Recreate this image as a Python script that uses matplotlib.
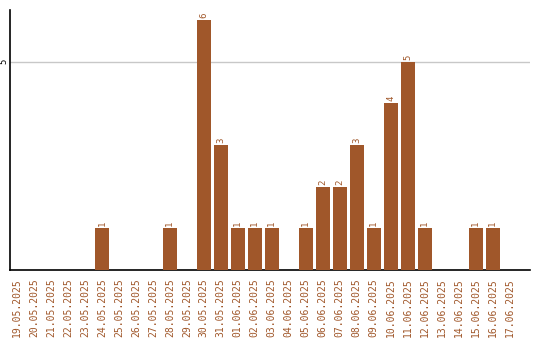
import matplotlib
matplotlib.use("Agg")
import matplotlib.pyplot as plt

dates = ["19.05.2025", "20.05.2025", "21.05.2025", "22.05.2025", "23.05.2025",
         "24.05.2025", "25.05.2025", "26.05.2025", "27.05.2025", "28.05.2025",
         "29.05.2025", "30.05.2025", "31.05.2025", "01.06.2025", "02.06.2025",
         "03.06.2025", "04.06.2025", "05.06.2025", "06.06.2025", "07.06.2025",
         "08.06.2025", "09.06.2025", "10.06.2025", "11.06.2025", "12.06.2025",
         "13.06.2025", "14.06.2025", "15.06.2025", "16.06.2025", "17.06.2025"]
counts = [0, 0, 0, 0, 0, 1, 0, 0, 0, 1,
          0, 6, 3, 1, 1, 1, 0, 1, 2, 2,
          3, 1, 4, 5, 1, 0, 0, 1, 1, 0]

color = "#a0572a"

fig = plt.figure(figsize=(5.4, 3.4), dpi=100)
ax = fig.add_axes([10 / 540, 70 / 340, 520 / 540, 260 / 340])

x = list(range(len(dates)))
ax.bar(x, counts, width=0.82, color=color, zorder=3)

for xi, c in zip(x, counts):
    if c > 0:
        ax.text(xi, c + 0.05, str(c), rotation=90, ha="center", va="bottom",
                color=color, fontsize=6.5, family="DejaVu Sans Mono")

ax.set_xlim(-0.41, 30.2)
ax.set_ylim(0, 6.24)
ax.set_yticks([5])
ax.set_yticklabels(["5"], rotation=90, va="center", fontsize=6.5,
                   family="DejaVu Sans Mono")
ax.set_xticks(x)
ax.set_xticklabels(dates, rotation=90, color=color, fontsize=7,
                   family="DejaVu Sans Mono")
ax.tick_params(length=0, pad=6)
ax.tick_params(axis="y", pad=1)
ax.grid(axis="y", color="#c8c8c8", linewidth=1, zorder=0)
for s in ["top", "right"]:
    ax.spines[s].set_visible(False)
ax.spines["left"].set_linewidth(1.2)
ax.spines["bottom"].set_linewidth(1.2)

fig.savefig("out.png", dpi=100)
